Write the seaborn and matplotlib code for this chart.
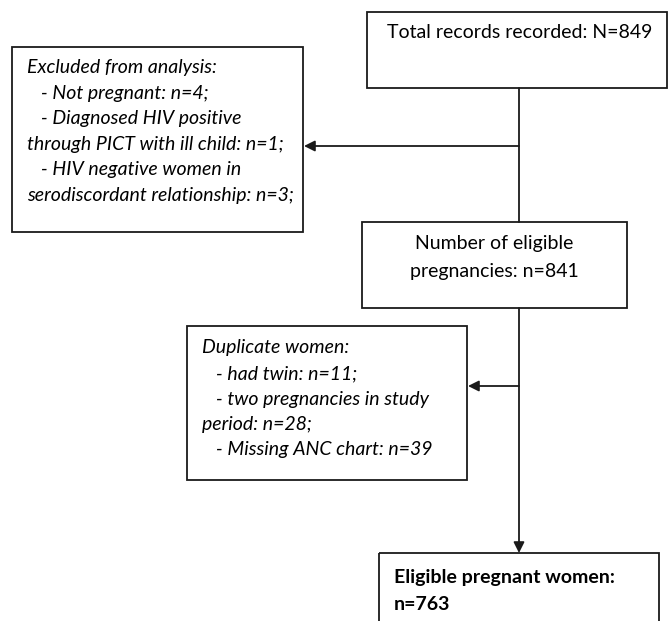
import matplotlib
matplotlib.use("Agg")
import matplotlib.pyplot as plt
from matplotlib.patches import Rectangle
import seaborn as sns

# ---- data ----
total_records = 849
excluded_counts = [4, 1, 3]
eligible_pregnancies = 841
duplicate_counts = [11, 28, 39]
eligible_women = 763

total_label = f"Total records recorded: N={total_records}"
excluded_lines = [
    "Excluded from analysis:",
    f"   - Not pregnant: n={excluded_counts[0]};",
    "   - Diagnosed HIV positive",
    f"through PICT with ill child: n={excluded_counts[1]};",
    "   - HIV negative women in",
    f"serodiscordant relationship: n={excluded_counts[2]};",
]
eligible_preg_lines = ["Number of eligible", f"pregnancies: n={eligible_pregnancies}"]
duplicate_lines = [
    "Duplicate women:",
    f"   - had twin: n={duplicate_counts[0]};",
    "   - two pregnancies in study",
    f"period: n={duplicate_counts[1]};",
    f"   - Missing ANC chart: n={duplicate_counts[2]}",
]
final_lines = ["Eligible pregnant women:", f"n={eligible_women}"]

# ---- drawing ----
sns.set_theme(style="white")
plt.rcParams["font.family"] = ["Lato", "DejaVu Sans"]

W, H = 669, 621
fig = plt.figure(figsize=(W / 100, H / 100), dpi=100)
ax = fig.add_axes([0, 0, 1, 1])
ax.set_xlim(0, W)
ax.set_ylim(H, 0)
ax.axis("off")

LC = "#1a1a1a"
LW = 1.3
FS = 14


def box(x0, y0, x1, y1):
    ax.add_patch(Rectangle((x0, y0), x1 - x0, y1 - y0, fill=False,
                           edgecolor=LC, linewidth=LW, clip_on=False))


def arrow(x0, y0, x1, y1):
    ax.annotate("", xy=(x1, y1), xytext=(x0, y0),
                arrowprops=dict(arrowstyle="-|>", color=LC, lw=LW,
                                mutation_scale=16, shrinkA=0, shrinkB=0))


# boxes
box(367, 12, 667, 88)
box(12, 47, 303, 232)
box(362, 222, 627, 308)
box(187, 326, 467, 480)
box(379, 553, 659, 640)

# connectors
ax.plot([519, 519], [88, 222], color=LC, lw=LW)
arrow(519, 146, 304, 146)
arrow(519, 308, 519, 553)
arrow(519, 386, 468, 386)

# texts
ax.text(520, 33, total_label, ha="center", va="center", fontsize=FS, color="black")

for i, t in enumerate(excluded_lines):
    ax.text(27, 68 + 25.4 * i, t, ha="left", va="center", fontsize=FS,
            style="italic", color="black")

for i, t in enumerate(eligible_preg_lines):
    ax.text(494, 243 + 28 * i, t, ha="center", va="center", fontsize=FS, color="black")

for i, t in enumerate(duplicate_lines):
    ax.text(202, 348 + 25.5 * i, t, ha="left", va="center", fontsize=FS,
            style="italic", color="black")

for i, t in enumerate(final_lines):
    ax.text(394, 577 + 27 * i, t, ha="left", va="center", fontsize=FS,
            fontweight="bold", color="black")

fig.savefig("out.png", dpi=100, facecolor="white")
